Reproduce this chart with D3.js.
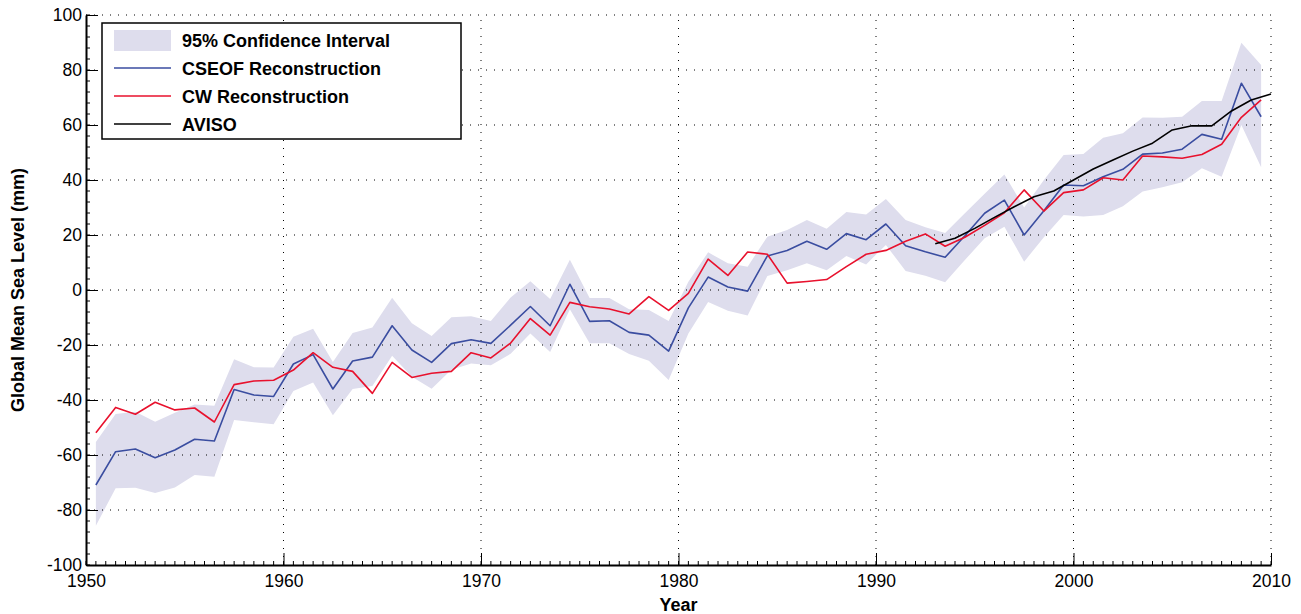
<!DOCTYPE html>
<html>
<head>
<meta charset="utf-8">
<script src="https://cdn.jsdelivr.net/npm/d3@7"></script>
<style>
  html, body { margin: 0; padding: 0; background: #fff; }
  svg { display: block; }
  text { font-family: "Liberation Sans", Arial, Helvetica, sans-serif; fill: #000; }
</style>
</head>
<body>
<svg id="chart" width="1301" height="614"></svg>
<script>
// ---- Data ----
const years = d3.range(60).map(i => 1950.5 + i);
const cseof = [
  -70.9, -58.8, -57.8, -61.0, -58.2, -54.3, -54.9, -36.2, -38.2, -38.7,
  -26.9, -23.5, -36.0, -25.8, -24.4, -13.0, -21.8, -26.3, -19.5, -18.1,
  -19.4, -12.8, -6.0, -13.0, 2.1, -11.4, -11.2, -15.4, -16.4, -22.2,
  -6.5, 4.7, 1.1, -0.4, 12.4, 14.4, 17.7, 14.8, 20.5, 18.3,
  24.0, 16.1, 13.9, 11.9, 19.7, 27.9, 32.7, 20.0, 28.8, 38.2,
  37.9, 41.2, 43.9, 49.4, 49.8, 51.2, 56.6, 54.8, 75.2, 63.0
];
const cw = [
  -51.9, -42.7, -45.2, -40.8, -43.6, -42.9, -48.0, -34.4, -33.1, -32.8,
  -29.1, -22.8, -28.1, -29.6, -37.6, -26.3, -31.8, -30.3, -29.6, -22.8,
  -24.7, -19.3, -10.4, -16.4, -4.5, -6.1, -6.9, -8.7, -2.4, -7.4,
  -1.2, 11.2, 5.3, 13.8, 13.0, 2.5, 3.1, 3.8, 8.5, 13.0,
  14.4, 17.7, 20.4, 15.9, 19.2, 23.5, 28.1, 36.4, 28.7, 35.4,
  36.4, 40.8, 40.0, 48.7, 48.4, 47.9, 49.3, 53.0, 62.8, 69.1
];
const ciUpper = [
  -55.3, -45.1, -44.3, -47.9, -44.6, -41.6, -42.1, -25.2, -28.1, -28.2,
  -17.0, -14.1, -26.2, -15.6, -13.6, -2.8, -12.1, -16.7, -9.9, -9.5,
  -11.3, -2.7, 3.2, -3.3, 11.0, -2.9, -2.9, -7.0, -7.3, -11.3,
  3.0, 13.7, 9.7, 8.5, 19.4, 21.8, 25.5, 22.3, 28.4, 27.5,
  33.1, 25.5, 22.8, 20.7, 27.9, 35.0, 42.0, 30.0, 40.0, 49.1,
  49.5, 55.4, 57.0, 62.7, 62.6, 63.0, 68.7, 68.7, 89.9, 81.8
];
const ciLower = [
  -85.7, -72.1, -71.9, -73.8, -71.8, -67.3, -67.9, -47.3, -48.1, -48.8,
  -36.7, -33.6, -45.5, -36.0, -34.9, -23.9, -31.5, -35.9, -29.0, -26.7,
  -27.4, -23.2, -15.8, -22.5, -7.0, -19.4, -19.4, -23.3, -25.7, -32.7,
  -15.8, -4.4, -7.5, -9.3, 5.1, 7.2, 9.7, 7.2, 12.4, 9.3,
  16.4, 6.9, 5.2, 2.8, 10.9, 18.8, 23.0, 10.3, 19.2, 27.3,
  26.7, 27.3, 30.5, 35.8, 37.4, 39.2, 44.3, 41.2, 60.0, 44.6
];
const avisoYears = d3.range(1993, 2011);
const aviso = [16.8, 18.8, 22.4, 26.4, 30.3, 33.9, 36.0, 40.0, 44.0, 47.3,
               50.5, 53.4, 58.2, 59.7, 59.7, 65.1, 69.1, 71.3];
const xTicks = [1950, 1960, 1970, 1980, 1990, 2000, 2010];
const yTicks = [-100, -80, -60, -40, -20, 0, 20, 40, 60, 80, 100];
const legendLabels = ["95% Confidence Interval", "CSEOF Reconstruction", "CW Reconstruction", "AVISO"];

// ---- Layout ----
const W = 1301, H = 614;
const m = { left: 86, right: 30, top: 15, bottom: 49 };
const svg = d3.select("#chart");
const x = d3.scaleLinear().domain([1950, 2010]).range([m.left, W - m.right]);
const y = d3.scaleLinear().domain([-100, 100]).range([H - m.bottom, m.top]);

const colBand = "#dedded", colBlue = "#3a4da0", colRed = "#e8112d", colBlack = "#000";

// band
const area = d3.area().x((d, i) => x(years[i])).y0((d, i) => y(ciLower[i])).y1((d, i) => y(ciUpper[i]));
svg.append("path").datum(ciUpper).attr("d", area).attr("fill", colBand);

// grid (dotted)
const grid = svg.append("g").attr("stroke", "#000").attr("stroke-width", 1).attr("stroke-dasharray", "1,7");
grid.selectAll(".gx").data(xTicks.slice(1)).join("line")
  .attr("x1", d => x(d)).attr("x2", d => x(d)).attr("y1", y(-100)).attr("y2", y(100));
grid.selectAll(".gy").data(yTicks.slice(1)).join("line")
  .attr("y1", d => y(d)).attr("y2", d => y(d)).attr("x1", x(1950)).attr("x2", x(2010));

// lines
const lineGen = (xs, ys) => d3.line().x((d, i) => x(xs[i])).y((d, i) => y(ys[i]));
svg.append("path").datum(cseof).attr("d", lineGen(years, cseof)).attr("fill", "none")
  .attr("stroke", colBlue).attr("stroke-width", 1.6).attr("stroke-linejoin", "round");
svg.append("path").datum(cw).attr("d", lineGen(years, cw)).attr("fill", "none")
  .attr("stroke", colRed).attr("stroke-width", 1.6).attr("stroke-linejoin", "round");
svg.append("path").datum(aviso).attr("d", lineGen(avisoYears, aviso)).attr("fill", "none")
  .attr("stroke", colBlack).attr("stroke-width", 1.6).attr("stroke-linejoin", "round");

// minor ticks
const minor = svg.append("g").attr("stroke", "#000").attr("stroke-width", 1);
minor.selectAll(".mx").data(d3.range(1950, 2010.01, 0.5)).join("line")
  .attr("x1", d => x(d)).attr("x2", d => x(d)).attr("y1", y(-100)).attr("y2", y(-100) - 4);
minor.selectAll(".my").data(d3.range(-100, 100.01, 4)).join("line")
  .attr("y1", d => y(d)).attr("y2", d => y(d)).attr("x1", x(1950)).attr("x2", x(1950) + 4);

// axes
const xAxis = d3.axisBottom(x).tickValues(xTicks).tickFormat(d3.format("d")).tickSizeInner(-12).tickSizeOuter(0).tickPadding(10);
const gx = svg.append("g").attr("transform", `translate(0,${y(-100)})`).call(xAxis);
gx.select(".domain").attr("stroke-width", 2);
gx.selectAll("text").attr("font-size", 17.5).attr("font-family", "Liberation Sans, Arial, sans-serif");

const yAxis = d3.axisLeft(y).tickValues(yTicks).tickFormat(d => String(d)).tickSizeInner(-12).tickSizeOuter(0).tickPadding(4);
const gy = svg.append("g").attr("transform", `translate(${x(1950)},0)`).call(yAxis);
gy.select(".domain").attr("stroke-width", 2);
gy.selectAll("text").attr("font-size", 17.5).attr("font-family", "Liberation Sans, Arial, sans-serif");

// axis titles
svg.append("text").attr("x", (x(1950) + x(2010)) / 2).attr("y", 611).attr("text-anchor", "middle")
  .attr("font-size", 18).attr("font-weight", "bold").text("Year");
svg.append("text").attr("transform", `translate(24,${(y(-100) + y(100)) / 2}) rotate(-90)`)
  .attr("text-anchor", "middle").attr("font-size", 18).attr("font-weight", "bold")
  .text("Global Mean Sea Level (mm)");

// legend
const lg = svg.append("g");
lg.append("rect").attr("x", 102).attr("y", 23).attr("width", 359).attr("height", 116)
  .attr("fill", "#fff").attr("stroke", "#000").attr("stroke-width", 1.5);
const rowY = [40, 68, 96, 124];
lg.append("rect").attr("x", 114).attr("y", rowY[0] - 10).attr("width", 57).attr("height", 21).attr("fill", colBand);
[colBlue, colRed, colBlack].forEach((c, i) => {
  lg.append("line").attr("x1", 114).attr("x2", 171).attr("y1", rowY[i + 1]).attr("y2", rowY[i + 1])
    .attr("stroke", c).attr("stroke-width", 1.6);
});
legendLabels.forEach((t, i) => {
  lg.append("text").attr("x", 182).attr("y", rowY[i] + 6.5).attr("font-size", 18).attr("font-weight", "bold").text(t);
});
</script>
</body>
</html>
